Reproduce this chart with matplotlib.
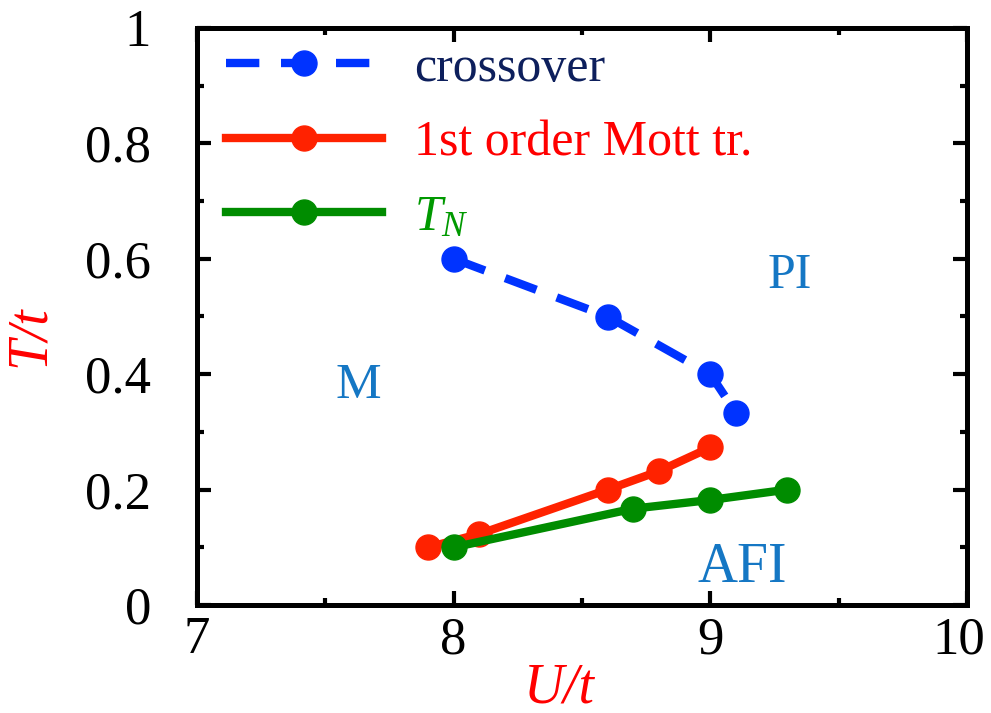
import matplotlib
matplotlib.use("Agg")
import matplotlib.pyplot as plt
import matplotlib.transforms as mtransforms
from matplotlib.ticker import MultipleLocator

plt.rcParams['font.family'] = ['Liberation Serif', 'DejaVu Serif']
plt.rcParams['mathtext.fontset'] = 'custom'
plt.rcParams['mathtext.rm'] = 'Liberation Serif'
plt.rcParams['mathtext.it'] = 'Liberation Serif:italic'

# Phase boundaries in the (U/t, T/t) plane
crossover_U = [8.0, 8.6, 9.0, 9.1]
crossover_T = [0.6, 0.5, 0.4, 0.333]

mott_U = [7.9, 8.1, 8.6, 8.8, 9.0]
mott_T = [0.1, 0.123, 0.2, 0.232, 0.273]

neel_U = [8.0, 8.7, 9.0, 9.3]
neel_T = [0.1, 0.167, 0.182, 0.2]

x_ticks = [7, 8, 9, 10]
y_ticks = [0, 0.2, 0.4, 0.6, 0.8, 1]
y_tick_labels = ['0', '0.2', '0.4', '0.6', '0.8', '1']

fig = plt.figure(figsize=(9.91, 7.13), dpi=100)
ax = fig.add_axes([197/991, 1 - 605/713, 770/991, 577/713])

BLUE = '#0033ff'
RED = '#ff2200'
GREEN = '#008c00'
lw = 6
ms = 18

ax.plot(crossover_U, crossover_T, color=BLUE, lw=lw, ls=(0, (4, 2.6)),
        marker='o', ms=ms, label='crossover')
ax.plot(mott_U, mott_T, color=RED, lw=lw, marker='o', ms=ms,
        label='1st order Mott tr.')
ax.plot(neel_U, neel_T, color=GREEN, lw=lw, marker='o', ms=ms,
        label=r'$T_N$')

ax.set_xlim(7, 10)
ax.set_ylim(0, 1)
ax.set_xticks(x_ticks)
ax.set_xticklabels([str(v) for v in x_ticks])
ax.set_yticks(y_ticks)
ax.set_yticklabels(y_tick_labels)
ax.xaxis.set_minor_locator(MultipleLocator(0.5))
ax.yaxis.set_minor_locator(MultipleLocator(0.1))

for s in ax.spines.values():
    s.set_linewidth(3.6)
ax.tick_params(which='both', direction='in', top=True, right=True, width=3)
ax.tick_params(which='major', length=10, labelsize=38)
ax.tick_params(which='minor', length=5)
ax.tick_params(axis='y', which='major', pad=33)
ax.tick_params(axis='x', which='major', pad=8)

# nudge the rightmost x tick label so it stays inside the figure
last = ax.get_xticklabels()[-1]
last.set_transform(last.get_transform() +
                   mtransforms.ScaledTranslation(-6/72, 0, fig.dpi_scale_trans))

ax.set_xlabel('U/t', color='#ff0000', fontsize=40, style='italic')
ax.xaxis.label.set_va('center')
ax.xaxis.set_label_coords(0.471, -0.144)
ax.set_ylabel('T/t', color='#ff0000', fontsize=40, style='italic')
ax.yaxis.label.set_va('center')
ax.yaxis.set_label_coords(-0.217, 0.466)

REGION = '#1577c4'
ax.text(7.627, 0.359, 'M', color=REGION, fontsize=37, ha='center', va='baseline')
ax.text(9.31, 0.549, 'PI', color=REGION, fontsize=36, ha='center', va='baseline')
ax.text(9.123, 0.040, 'AFI', color=REGION, fontsize=40, ha='center', va='baseline')

leg = ax.legend(loc='upper left', bbox_to_anchor=(29/770, 0.970), frameon=False,
                fontsize=36, handlelength=3.12, handletextpad=0.64,
                labelspacing=0.56, borderpad=0, borderaxespad=0, numpoints=1)
for txt, c in zip(leg.get_texts(), ['#0d1f5c', '#ff0000', '#009900']):
    txt.set_color(c)

fig.savefig('out.png', dpi=100)
